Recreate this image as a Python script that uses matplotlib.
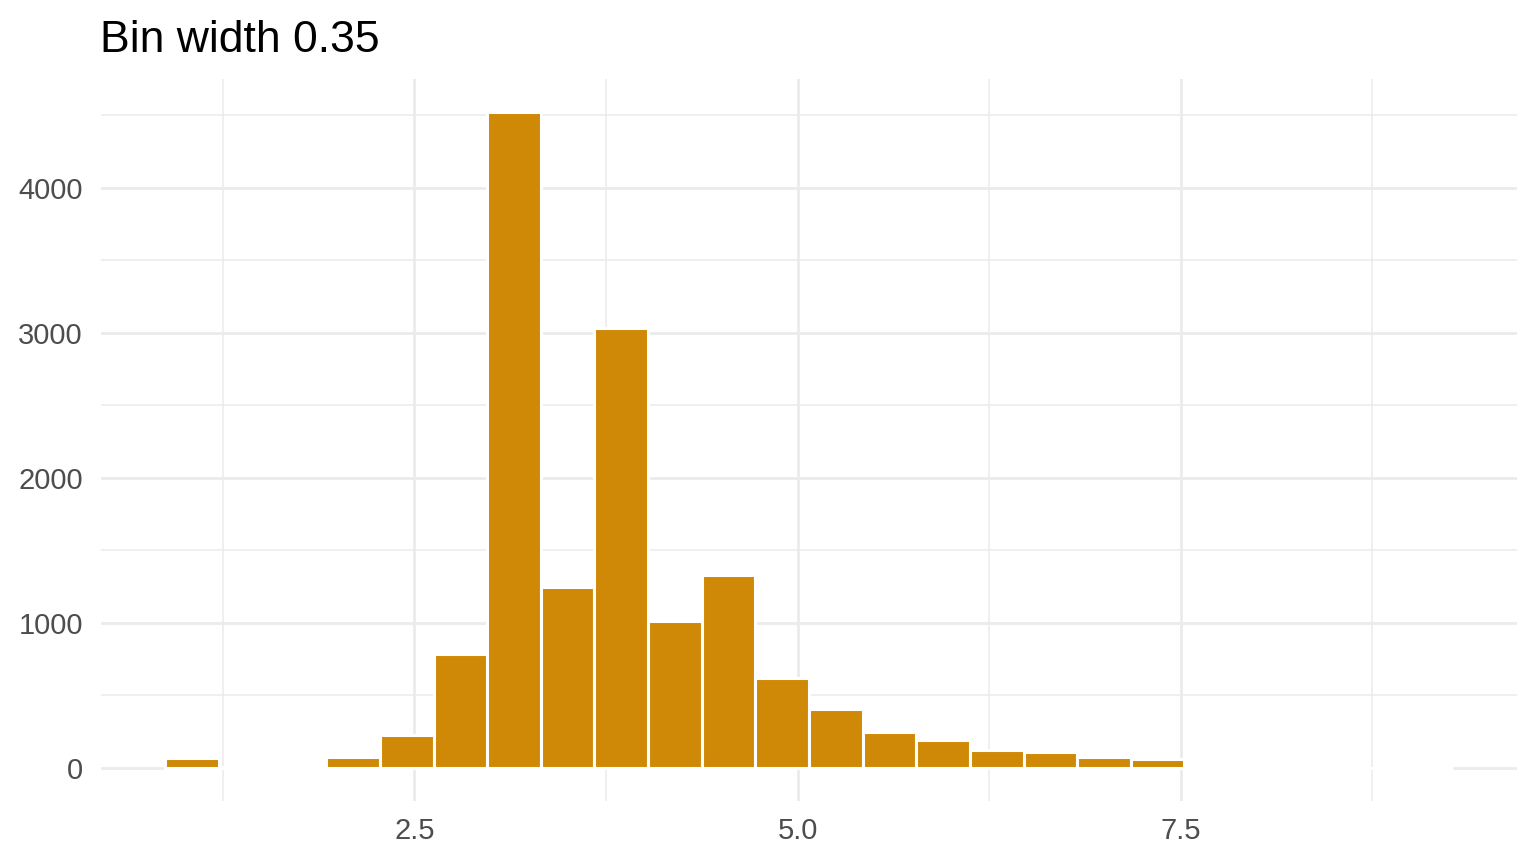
import numpy as np
import matplotlib
matplotlib.use("Agg")
import matplotlib.pyplot as plt
from matplotlib.ticker import FixedLocator

# histogram counts, bin width 0.35, centres at multiples of 0.35
bin_width = 0.35
bin_centers = [1.05, 1.40, 1.75, 2.10, 2.45, 2.80, 3.15, 3.50, 3.85, 4.20, 4.55, 4.90,
               5.25, 5.60, 5.95, 6.30, 6.65, 7.00, 7.35, 7.70, 8.05, 8.40, 8.75, 9.10]
counts = [70, 5, 0, 77, 224, 782, 4525, 1247, 3031, 1013, 1332, 621,
          405, 244, 189, 125, 109, 74, 63, 15, 0, 0, 0, 1]

x_major = [2.5, 5.0, 7.5]
x_major_labels = ["2.5", "5.0", "7.5"]
x_minor = [1.25, 3.75, 6.25, 8.75]
y_major = [0, 1000, 2000, 3000, 4000]
y_minor = [500, 1500, 2500, 3500, 4500]

bar_color = "#CF8907"
grid_color = "#EBEBEB"
text_grey = "#4D4D4D"

plt.rcParams["font.family"] = ["Liberation Sans", "DejaVu Sans"]

fig = plt.figure(figsize=(15.36, 8.64), dpi=100)
ax = fig.add_axes([101 / 1536, 1 - 800.5 / 864, (1517 - 101) / 1536, (800.5 - 79) / 864])

ax.bar(bin_centers, counts, width=bin_width, color=bar_color,
       edgecolor="white", linewidth=2.2, zorder=3)

# ggplot-style expansion (5% each side)
lo = bin_centers[0] - bin_width / 2
hi = bin_centers[-1] + bin_width / 2
pad = (hi - lo) * 0.05
ax.set_xlim(lo - pad, hi + pad)
ymax = max(counts)
ax.set_ylim(-ymax * 0.05, ymax * 1.05)

ax.xaxis.set_major_locator(FixedLocator(x_major))
ax.xaxis.set_minor_locator(FixedLocator(x_minor))
ax.set_xticklabels(x_major_labels)
ax.yaxis.set_major_locator(FixedLocator(y_major))
ax.yaxis.set_minor_locator(FixedLocator(y_minor))

ax.set_axisbelow(True)
ax.grid(which="major", color=grid_color, linewidth=2.0)
ax.grid(which="minor", color=grid_color, linewidth=1.1)

for s in ax.spines.values():
    s.set_visible(False)
ax.tick_params(which="both", length=0)
ax.tick_params(axis="x", labelsize=21, labelcolor=text_grey, pad=12)
ax.tick_params(axis="y", labelsize=21, labelcolor=text_grey, pad=13)

fig.text(100 / 1536, 1 - 52 / 864, "Bin width 0.35", fontsize=32,
         color="black", ha="left", va="baseline")

fig.savefig("out.png", dpi=100, facecolor="white")
